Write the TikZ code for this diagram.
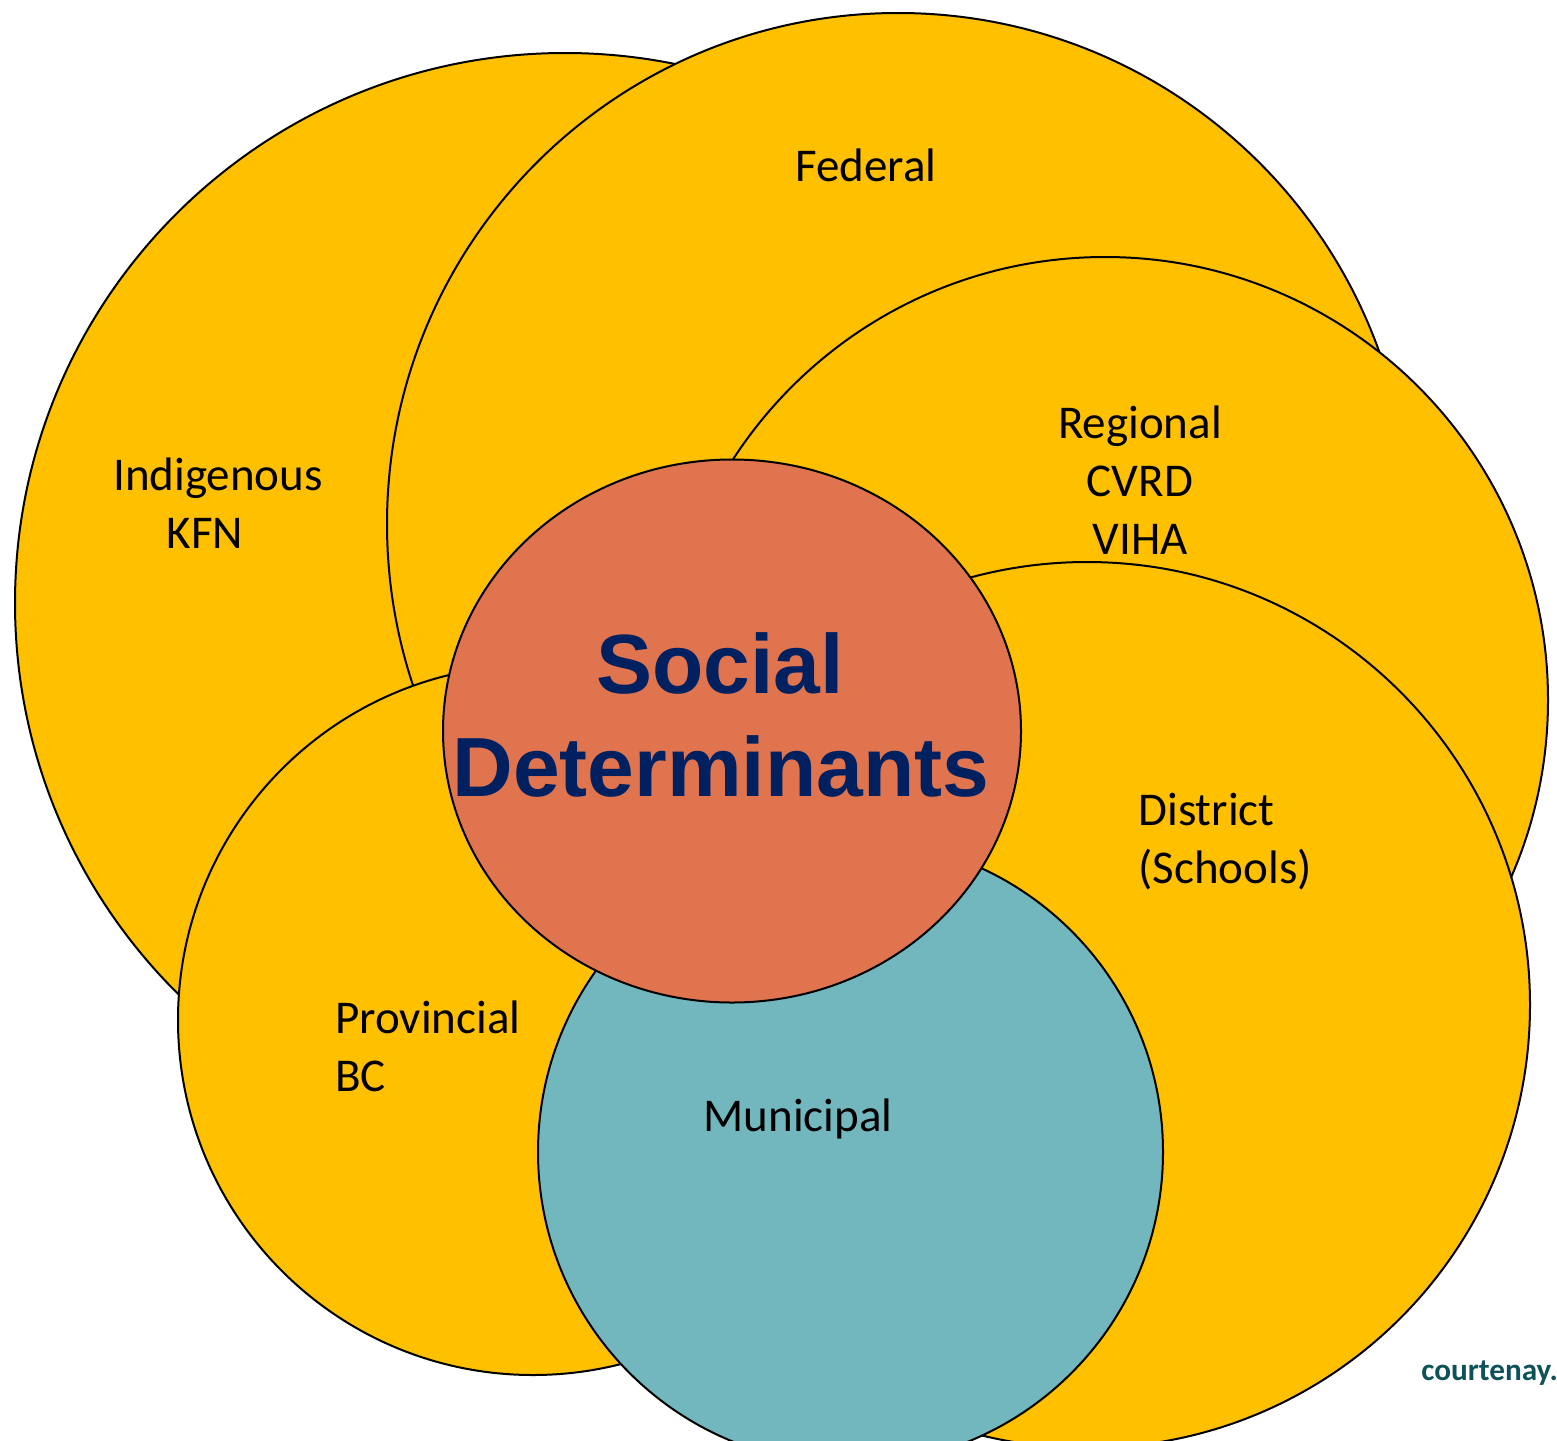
\documentclass[tikz,border=0pt]{standalone}
\usepackage{fontspec}
\setmainfont{Carlito}
\newfontfamily\headfont{Liberation Sans}
\definecolor{gold}{HTML}{FFC000}
\definecolor{socialc}{HTML}{DF744E}
\definecolor{munic}{HTML}{72B7BD}
\definecolor{navy}{HTML}{002060}
\definecolor{webteal}{HTML}{0E5259}
\tikzset{
  ring/.style={draw=black, line width=1pt, fill=gold},
  lbl/.style={font=\fontsize{23.5}{29}\selectfont, inner sep=0pt, anchor=base},
  lbll/.style={lbl, anchor=base west},
  head/.style={font=\headfont\bfseries\fontsize{42}{51.5}\selectfont, text=navy, inner sep=0pt, anchor=base},
}
\begin{document}
\begin{tikzpicture}[x=0.5pt, y=-0.5pt]
\useasboundingbox (0,0) rectangle (1557,1440);
\clip (0,0) rectangle (1557,1440);
\coordinate (cInd) at (565,603);
\coordinate (cFed) at (898,524);
\coordinate (cReg) at (1105,700);
\coordinate (cDis) at (1087,1005);
\coordinate (cPro) at (533,1020);
\coordinate (cMun) at (850.5,1152);
\coordinate (cSoc) at (732,731);
\draw[ring] (cInd) circle [radius=550];
\draw[ring] (cFed) circle [radius=511];
\draw[ring] (cReg) circle [radius=443];
\draw[ring] (cDis) circle [radius=443];
\draw[ring] (cPro) circle [radius=355];
\draw[ring, fill=munic] (cMun) circle [radius=312.5];
\draw[ring, fill=socialc] (cSoc) ellipse [x radius=289, y radius=271.5];
\node[lbl] (ind1) at (218,490) {Indigenous};
\node[lbl] (ind2) at (205,548) {KFN};
\node[lbl] (fed) at (866,181) {Federal};
\node[lbl] (reg1) at (1140,438) {Regional};
\node[lbl] (reg2) at (1140,496) {CVRD};
\node[lbl] (reg3) at (1140,554) {VIHA};
\node[lbll] (dis1) at (1138,825) {District};
\node[lbll] (dis2) at (1138,883) {(Schools)};
\node[lbll] (pro1) at (335,1033) {Provincial};
\node[lbll] (pro2) at (335,1091) {BC};
\node[lbl] (mun) at (798,1131) {Municipal};
\node[head] (soc1) at (720,693) {Social};
\node[head] (soc2) at (721,796) {Determinants};
\node[inner sep=0pt, anchor=base west, font=\bfseries\fontsize{15.6}{18}\selectfont, text=webteal] (web) at (1421,1380) {courtenay.};
\end{tikzpicture}
\end{document}
